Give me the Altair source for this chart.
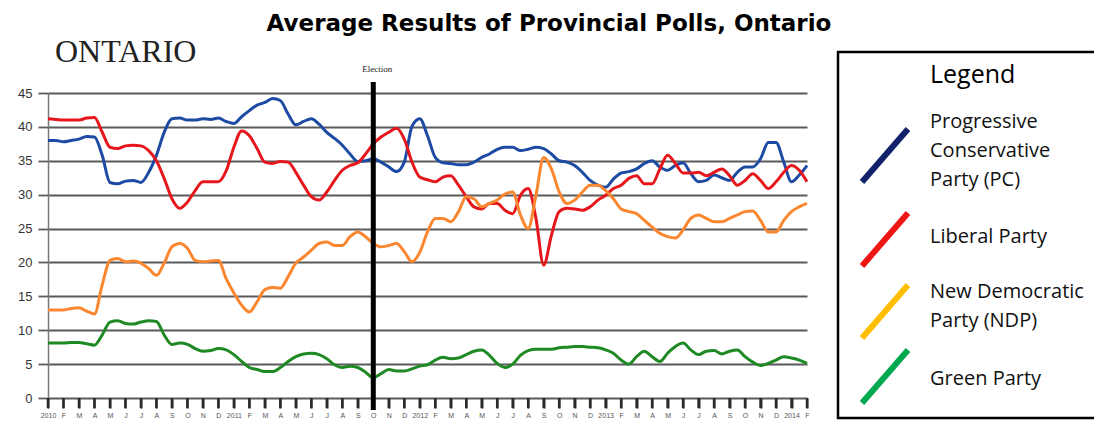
import altair as alt
import pandas as pd

# month index (0 = Jan 2010), sampled every half month
months = [i * 0.5 for i in range(99)]

pc = [38.0, 38.0, 37.8, 38.0, 38.2, 38.6, 38.5, 35.8, 31.8, 31.6,
      32.0, 32.1, 31.8, 33.3, 35.8, 39.2, 41.2, 41.3, 41.0, 41.0,
      41.2, 41.1, 41.3, 40.8, 40.5, 41.5, 42.4, 43.2, 43.6, 44.2,
      43.9, 41.9, 40.3, 40.8, 41.2, 40.4, 39.2, 38.3, 37.3, 36.0,
      34.9, 35.0, 35.3, 34.8, 34.1, 33.4, 34.8, 40.1, 41.2, 38.7,
      35.5, 34.7, 34.6, 34.4, 34.4, 34.8, 35.5, 36.0, 36.7, 37.0,
      37.0, 36.5, 36.7, 37.0, 36.8, 36.0, 35.0, 34.8, 34.3, 33.3,
      32.1, 31.4, 31.1, 32.3, 33.2, 33.4, 33.8, 34.6, 35.0, 34.1,
      33.6, 34.3, 34.7, 33.1, 31.9, 32.1, 32.9, 32.5, 32.1, 33.3,
      34.1, 34.1, 35.3, 37.7, 37.7, 34.8, 31.9, 32.9, 34.3]

liberal = [41.2, 41.1, 41.0, 41.0, 41.0, 41.3, 41.4, 39.2, 37.0, 36.8,
           37.2, 37.3, 37.2, 36.5, 35.0, 32.4, 29.4, 28.0, 28.9, 30.6,
           31.9, 31.9, 31.9, 33.5, 37.0, 39.4, 38.7, 36.8, 34.8, 34.6,
           34.9, 34.8, 33.3, 31.4, 29.7, 29.2, 30.4, 32.1, 33.6, 34.3,
           34.7, 36.0, 37.5, 38.5, 39.2, 39.8, 38.2, 34.8, 32.6, 32.2,
           31.9, 32.6, 32.8, 31.4, 29.7, 28.2, 27.9, 28.7, 28.7, 27.7,
           27.2, 29.9, 30.9, 26.5, 19.6, 24.0, 27.5, 28.0, 27.9, 27.7,
           28.2, 29.2, 29.9, 30.9, 31.4, 32.4, 32.8, 31.6, 31.6, 33.8,
           35.8, 34.6, 33.2, 33.2, 33.3, 32.8, 33.3, 33.8, 32.8, 31.4,
           32.1, 33.1, 32.1, 30.9, 31.9, 33.3, 34.3, 33.6, 31.9]

ndp = [13.0, 13.0, 13.0, 13.2, 13.3, 12.8, 12.4, 16.7, 20.3, 20.6,
       20.1, 20.2, 19.9, 19.1, 18.1, 19.9, 22.3, 22.8, 22.1, 20.3,
       20.1, 20.2, 20.3, 17.6, 15.5, 13.7, 12.7, 14.2, 16.0, 16.3,
       16.2, 17.9, 19.9, 20.8, 21.8, 22.8, 23.0, 22.5, 22.5, 23.8,
       24.5, 23.8, 22.8, 22.3, 22.5, 22.8, 21.6, 20.1, 21.5, 24.5,
       26.5, 26.5, 26.0, 27.5, 29.7, 29.4, 28.2, 28.7, 29.2, 30.1,
       30.4, 27.0, 25.0, 29.9, 35.5, 33.8, 30.4, 28.7, 29.2, 30.4,
       31.4, 31.4, 30.6, 29.4, 27.9, 27.5, 27.2, 26.2, 25.2, 24.3,
       23.8, 23.6, 24.8, 26.5, 27.0, 26.5, 26.0, 26.0, 26.5, 27.0,
       27.5, 27.6, 26.2, 24.5, 24.5, 26.2, 27.5, 28.2, 28.7]

green = [8.1, 8.1, 8.1, 8.2, 8.2, 8.0, 7.8, 9.3, 11.2, 11.4,
         11.0, 10.9, 11.2, 11.4, 11.3, 9.3, 7.9, 8.1, 7.9, 7.3,
         6.9, 7.0, 7.3, 7.1, 6.4, 5.4, 4.5, 4.2, 3.9, 3.9,
         4.5, 5.4, 6.1, 6.5, 6.6, 6.4, 5.8, 4.9, 4.5, 4.7,
         4.5, 3.8, 3.0, 3.6, 4.2, 4.0, 4.0, 4.3, 4.7, 4.9,
         5.6, 6.0, 5.8, 5.9, 6.4, 6.9, 7.1, 6.3, 5.1, 4.5,
         5.0, 6.3, 7.0, 7.2, 7.2, 7.2, 7.4, 7.5, 7.6, 7.6,
         7.5, 7.4, 7.1, 6.6, 5.6, 5.0, 6.1, 6.9, 6.1, 5.4,
         6.6, 7.6, 8.1, 7.1, 6.4, 6.9, 7.0, 6.5, 6.9, 7.1,
         6.1, 5.3, 4.8, 5.1, 5.6, 6.1, 5.9, 5.6, 5.1]

parties = ["Progressive Conservative Party (PC)", "Liberal Party",
           "New Democratic Party (NDP)", "Green Party"]
line_colors = ["#1d4ba3", "#e5171d", "#fb8630", "#1f8a24"]
legend_colors = ["#12226a", "#ee1515", "#ffbf00", "#00a850"]
legend_lines = [["Progressive", "Conservative", "Party (PC)"],
                ["Liberal Party"],
                ["New Democratic", "Party (NDP)"],
                ["Green Party"]]

tick_labels = ["2010", "F", "M", "A", "M", "J", "J", "A", "S", "O", "N", "D",
               "2011", "F", "M", "A", "M", "J", "J", "A", "S", "O", "N", "D",
               "2012", "F", "M", "A", "M", "J", "J", "A", "S", "O", "N", "D",
               "2013", "F", "M", "A", "M", "J", "J", "A", "S", "O", "N", "D",
               "2014", "F"]
y_ticks = [0, 5, 10, 15, 20, 25, 30, 35, 40, 45]
election_month = 21

title_text = "Average Results of Provincial Polls, Ontario"
region_text = "ONTARIO"

rows = []
for name, vals in zip(parties, [pc, liberal, ndp, green]):
    for m, v in zip(months, vals):
        rows.append({"month": m, "value": v, "party": name})
df = pd.DataFrame(rows)

label_expr = "[" + ",".join("'%s'" % t for t in tick_labels) + "][datum.value]"

GRID = "#5a5a5a"

x_scale = alt.Scale(domain=[0, 49], nice=False, zero=False)
y_scale = alt.Scale(domain=[0, 45], nice=False)
x_axis = alt.Axis(values=list(range(len(tick_labels))), labelExpr=label_expr,
                  title=None, grid=False, domain=False, ticks=True, tickSize=10,
                  tickColor="#333333", tickWidth=2, tickOpacity=1,
                  labelFontSize=7, labelColor="#555555",
                  labelFont="Liberation Sans", labelPadding=3,
                  labelOverlap=False, labelBound=False, labelFlush=False)
y_axis = alt.Axis(values=y_ticks, title=None, grid=True, gridColor=GRID,
                  gridWidth=1.8, tickSize=10, tickColor=GRID, tickWidth=1.8,
                  labelFontSize=13, labelPadding=6, labelColor="#333333",
                  labelFont="Liberation Sans", domainColor="#777777",
                  domainWidth=1.5)

lines = alt.Chart(df).mark_line(strokeWidth=3, interpolate="monotone").encode(
    x=alt.X("month:Q", scale=x_scale, axis=x_axis),
    y=alt.Y("value:Q", scale=y_scale, axis=y_axis),
    color=alt.Color("party:N", scale=alt.Scale(domain=parties, range=line_colors),
                    legend=None),
)

# month tick marks drawn below the zero line
tick_df = pd.DataFrame({"tick": list(range(len(tick_labels))),
                        "top": [0.0] * len(tick_labels),
                        "bottom": [-1.5] * len(tick_labels)})
month_ticks = alt.Chart(tick_df).mark_rule(
    color="#2a2a2a", strokeWidth=2.5, clip=False).encode(
    x=alt.X("tick:Q", scale=x_scale, axis=x_axis),
    y=alt.Y("top:Q", scale=y_scale, axis=y_axis),
    y2="bottom:Q")

elec_df = pd.DataFrame({"month": [election_month], "label": ["Election"]})
election = alt.Chart(elec_df).mark_rule(color="black", strokeWidth=5).encode(
    x=alt.X("month:Q", scale=x_scale, axis=x_axis), y=alt.value(-11), y2=alt.value(317))
election_txt = alt.Chart(elec_df).mark_text(
    font="Liberation Serif", fontSize=9, align="center", baseline="alphabetic",
    dx=4, color="#222222").encode(
    x=alt.X("month:Q", scale=x_scale, axis=x_axis), y=alt.value(-21), text="label:N")

title = alt.Chart(pd.DataFrame({"t": [title_text]})).mark_text(
    font="DejaVu Sans", fontWeight="bold", fontSize=23, align="center",
    baseline="alphabetic", color="black").encode(
    x=alt.value(501), y=alt.value(-62), text="t:N")

region = alt.Chart(pd.DataFrame({"t": [region_text]})).mark_text(
    font="Liberation Serif", fontSize=32, align="left", baseline="alphabetic",
    color="#222222").encode(x=alt.value(7), y=alt.value(-31), text="t:N")

box = alt.Chart(pd.DataFrame({"a": [0]})).mark_rect(
    fill="white", stroke="black", strokeWidth=2.5).encode(
    x=alt.value(790), x2=alt.value(1070), y=alt.value(-41), y2=alt.value(325))

legend_title = alt.Chart(pd.DataFrame({"t": ["Legend"]})).mark_text(
    font="Open Sans", fontSize=25, align="left", baseline="alphabetic",
    color="black").encode(x=alt.value(882), y=alt.value(-10), text="t:N")

layers = [box, lines, month_ticks, election, election_txt, title, region, legend_title]

sw_top = [36, 120, 192, 257]      # legend swatch tops (px, relative to plot)
text_base = [35, 150, 205, 292]   # first text baseline
for i, name in enumerate(parties):
    sw = alt.Chart(pd.DataFrame({"p": [name]})).mark_rule(
        color=legend_colors[i], strokeWidth=6).encode(
        x=alt.value(814), x2=alt.value(860),
        y=alt.value(sw_top[i] + 53), y2=alt.value(sw_top[i]))
    layers.append(sw)
    for j, line in enumerate(legend_lines[i]):
        t = alt.Chart(pd.DataFrame({"t": [line]})).mark_text(
            font="Open Sans", fontSize=20, align="left", baseline="alphabetic",
            color="#111111").encode(
            x=alt.value(882), y=alt.value(text_base[i] + 29 * j), text="t:N")
        layers.append(t)

chart = alt.layer(*layers).properties(
    width=759, height=305,
    autosize=alt.AutoSizeParams(type="none"),
    padding={"left": 40, "top": 85, "right": 287, "bottom": 23},
    background="white",
).configure_view(stroke=None).configure_axisX(labelOverlap=False, ticks=True)

chart.save("out.html", embed_options={"renderer": "svg", "actions": False})
